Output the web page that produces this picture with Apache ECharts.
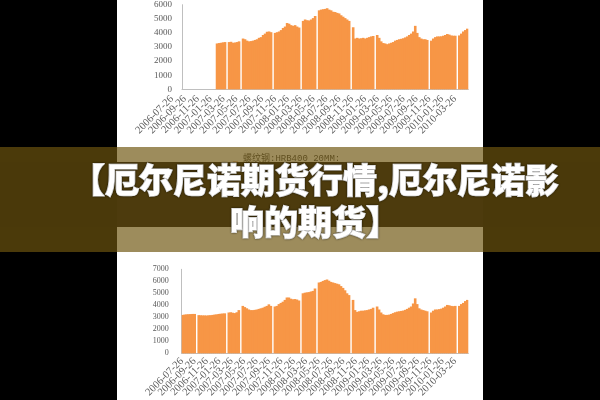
<!DOCTYPE html>
<html>
<head>
<meta charset="utf-8">
<script src="https://cdn.jsdelivr.net/npm/echarts@6/dist/echarts.min.js"></script>
<style>html,body{margin:0;padding:0;background:#000;}#c{width:600px;height:400px;}</style>
</head>
<body>
<div id="c"></div>
<script>
// ---- data ----
var seriesName = '螺纹钢:HRB400 20MM:上海';
var tickLabels = ['2006-07-26','2006-09-26','2006-11-26','2007-01-26','2007-03-26','2007-05-26','2007-07-26','2007-09-26','2007-11-26','2008-01-26','2008-03-26','2008-05-26','2008-07-26','2008-09-26','2008-11-26','2009-01-26','2009-03-26','2009-05-26','2009-07-26','2009-09-26','2009-11-26','2010-01-26','2010-03-26'];
var topValues = [null,null,null,null,null,null,null,null,null,null,null,null,null,null,null,null,null,
3250,3280,3300,3330,3350,0,3350,3370,3300,3320,3350,3400,0,
3600,3550,3450,3400,3420,3450,3500,3550,3650,3700,3850,3950,4080,4100,4050,0,
4000,4050,4100,4200,4350,4450,4700,4650,4550,4500,4550,4450,4380,0,
4850,4950,4900,4880,4950,5050,5200,0,
5600,5650,5680,5700,5750,5650,5600,5500,5480,5420,5380,5250,5150,5050,4950,4850,0,
4400,3600,3650,3600,3620,3650,3600,3650,3700,3750,3780,0,
3850,3650,3400,3280,3250,3200,3250,3300,3350,3450,3500,3550,3580,3620,3680,3750,3850,3950,4100,4500,4000,3700,3600,3550,3550,3500,0,
3450,3600,3700,3750,3750,3760,3800,3850,3920,3880,3820,3800,3800,0,
3820,3950,4100,4200,4300];
var bottomValues = [3200,3230,3250,3260,3270,3280,3280,0,
3180,3170,3160,3160,3150,3170,3180,3200,3230,3250,3280,3300,3320,3330,0,
3400,3420,3380,3350,3420,3600,0,
3950,3850,3750,3650,3600,3600,3620,3650,3700,3750,3800,3880,3950,4080,3950,0,
3900,3950,4100,4200,4300,4450,4650,4650,4550,4500,4520,4480,4400,0,
5000,5050,5080,5100,5150,5200,5400,0,
5900,5950,6030,6100,6150,6050,5950,5900,5850,5800,5750,5600,5450,5250,5000,4850,0,
4450,3600,3450,3500,3550,3550,3580,3600,3650,3700,3800,0,
3900,3650,3400,3250,3200,3200,3220,3280,3350,3420,3470,3500,3530,3560,3620,3700,3800,3900,4150,4580,4100,3750,3650,3600,3550,3500,0,
3400,3550,3650,3650,3680,3720,3800,3900,4030,4000,3950,3930,3950,0,
3950,4100,4200,4350,4450];
var titleLines = ['【厄尔尼诺期货行情,厄尔尼诺影', '响的期货】'];

// categories: one slot per sample (10-day steps from 2006-07-26)
var categories = [];
(function(){
  var d0 = Date.UTC(2006,6,26);
  for (var i = 0; i < topValues.length; i++) {
    var d = new Date(d0 + i*10*86400000);
    categories.push(d.toISOString().slice(0,10));
  }
})();

// ---- chart ----
var chart = echarts.init(document.getElementById('c'));
var orange = '#F79646';
var axisGrey = '#BFBFBF';
var labelGrey = '#595959';
var serif = '"Liberation Serif","Noto Sans CJK SC",serif';

function valueAxis(grid, max, fs, margin) {
  return {
    type: 'value', gridIndex: grid, min: 0, max: max, interval: 1000,
    axisLine: {show: true, lineStyle: {color: axisGrey, width: 1}},
    axisTick: {show: false}, splitLine: {show: false},
    axisLabel: {color: labelGrey, fontSize: fs, fontFamily: serif, margin: margin,
                formatter: function(v){ return String(v); }}
  };
}
function hiddenY(grid) {
  return {type: 'value', gridIndex: grid, show: false, min: 0, max: 1};
}
function labelAxis(grid, margin) {
  return {
    type: 'category', gridIndex: grid, data: tickLabels, boundaryGap: false,
    axisLine: {show: false}, axisTick: {show: false},
    axisLabel: {interval: 0, rotate: 45, color: labelGrey, fontSize: 10.5, fontFamily: serif, margin: margin}
  };
}

chart.setOption({
  backgroundColor: '#000',
  animation: false,
  grid: [
    {left: 182, right: 131.7, top: 4.7, bottom: 310.7},
    {left: 172, right: 145, top: 4.7, bottom: 310.7},
    {left: 181.7, right: 131.7, top: 269.3, bottom: 46.7},
    {left: 182, right: 145, top: 269.3, bottom: 46.7}
  ],
  legend: {
    left: 228, top: 149, data: [seriesName],
    icon: 'rect', itemWidth: 5, itemHeight: 5, itemGap: 4,
    formatter: function(){ return '螺纹钢:HRB400 20MM:\n上海'; },
    textStyle: {color: '#404040', fontSize: 9, lineHeight: 10, fontFamily: '"Liberation Mono","Noto Sans CJK SC",monospace'}
  },
  xAxis: [
    {type: 'category', gridIndex: 0, data: categories, boundaryGap: true,
     axisLine: {show: true, lineStyle: {color: axisGrey}}, axisTick: {show: false}, axisLabel: {show: false}},
    labelAxis(1, 8),
    {type: 'category', gridIndex: 2, data: categories, boundaryGap: true,
     axisLine: {show: true, lineStyle: {color: axisGrey}}, axisTick: {show: false}, axisLabel: {show: false}},
    labelAxis(3, 11)
  ],
  yAxis: [
    valueAxis(0, 6000, 9, 10),
    hiddenY(1),
    valueAxis(2, 7000, 8, 13),
    hiddenY(3)
  ],
  series: [
    {name: seriesName, type: 'bar', xAxisIndex: 0, yAxisIndex: 0, data: topValues,
     barWidth: 2.6, itemStyle: {color: orange}, silent: true},
    {type: 'line', xAxisIndex: 1, yAxisIndex: 1, data: [], silent: true},
    {name: seriesName + ' ', type: 'bar', xAxisIndex: 2, yAxisIndex: 2, data: bottomValues,
     barWidth: 2.6, itemStyle: {color: orange}, silent: true},
    {type: 'line', xAxisIndex: 3, yAxisIndex: 3, data: [], silent: true}
  ],
  graphic: [
    {type: 'rect', z: -10, silent: true, shape: {x: 117, y: 0, width: 366, height: 400}, style: {fill: '#fff'}},
    {type: 'rect', z: 100, silent: true, shape: {x: 0, y: 147, width: 600, height: 105}, style: {fill: 'rgba(110,85,15,0.68)'}},
    {type: 'rect', z: 101, silent: true, shape: {x: 0, y: 162, width: 600, height: 65}, style: {fill: 'rgba(74,57,10,0.97)'}},
    {type: 'text', z: 102, silent: true, x: 315, y: 201,
     style: {text: titleLines.join('\n'), fill: '#fff', align: 'center', verticalAlign: 'middle',
             font: '900 34px "Noto Sans CJK SC"', lineHeight: 42,
             stroke: '#fff', lineWidth: 1.2,
             textShadowColor: 'rgba(0,0,0,0.6)', textShadowBlur: 2}}
  ]
});
</script>
</body>
</html>
